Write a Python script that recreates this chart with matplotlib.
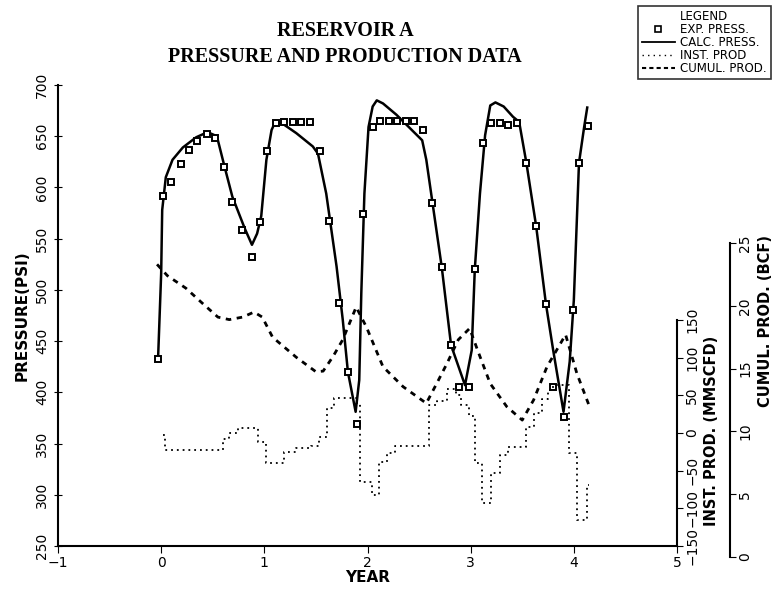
import numpy as np
import matplotlib
matplotlib.use('Agg')
from matplotlib import pyplot as plt
from matplotlib.lines import Line2D

# experimental pressure (squares)
exp_year = [-0.03, 0.02, 0.10, 0.19, 0.27, 0.35, 0.44, 0.52, 0.61, 0.69, 0.78, 0.88, 0.96,
            1.03, 1.11, 1.195, 1.28, 1.36, 1.445, 1.535, 1.63, 1.72, 1.81, 1.90, 1.96,
            2.05, 2.125, 2.21, 2.29, 2.37, 2.45, 2.54, 2.63, 2.72, 2.81, 2.89, 2.98,
            3.04, 3.12, 3.20, 3.285, 3.365, 3.45, 3.54, 3.635, 3.73, 3.80, 3.90, 3.99,
            4.05, 4.14]
exp_psi = [433, 592, 605, 623, 637, 645, 652, 648, 620, 586, 558, 532, 566,
           636, 663, 664, 664, 664, 664, 636, 567, 487, 420, 369, 574,
           659, 665, 665, 665, 665, 665, 656, 585, 522, 446, 405, 405,
           520, 643, 663, 663, 661, 663, 624, 562, 486, 405, 376, 480,
           624, 660]

# calculated pressure (solid line)
calc_year = [-0.03, 0.00, 0.01, 0.045, 0.11, 0.21, 0.34, 0.45, 0.54, 0.61, 0.69, 0.81, 0.88,
             0.93, 0.97, 1.02, 1.07, 1.11, 1.195, 1.31, 1.47, 1.52, 1.60, 1.70, 1.76,
             1.81, 1.885, 1.92, 1.94, 1.97, 2.01, 2.05, 2.09, 2.15, 2.28, 2.38, 2.46,
             2.53, 2.57, 2.63, 2.72, 2.81, 2.945, 3.01, 3.04, 3.09, 3.14, 3.19, 3.24,
             3.32, 3.41, 3.47, 3.54, 3.635, 3.73, 3.80, 3.90, 3.96, 4.00, 4.05, 4.10, 4.13]
calc_psi = [433, 516, 578, 610, 627, 639, 649, 654, 650, 622, 591, 560, 544,
            555, 572, 627, 656, 665, 661, 653, 640, 633, 594, 523, 471,
            420, 381, 412, 497, 594, 659, 679, 685, 682, 671, 661, 653,
            646, 627, 585, 522, 446, 407, 441, 520, 594, 651, 680, 683,
            679, 669, 664, 624, 562, 486, 441, 381, 430, 490, 624, 659, 678]

# instantaneous production, MMSCFD (step line)
inst_year = [0.02, 0.04, 0.60, 0.66, 0.74, 0.94, 1.02, 1.19, 1.31, 1.45, 1.53, 1.61, 1.68,
             1.90, 1.93, 2.04, 2.11, 2.19, 2.27, 2.60, 2.67, 2.77, 2.86, 2.91, 2.98,
             3.04, 3.11, 3.20, 3.28, 3.36, 3.54, 3.61, 3.69, 3.75, 3.80, 3.95, 4.03,
             4.13, 4.15]
inst_val = [-3, -22, -8, 0, 6, -12, -40, -25, -20, -17, -5, 33, 46,
            40, -65, -82, -38, -27, -17, 37, 42, 59, 50, 37, 22,
            -40, -93, -53, -29, -18, 8, 26, 45, 57, 64, -27, -115,
            -69, -69]

# cumulative production, BCF (dashed line)
cum_year = [-0.04, 0.06, 0.24, 0.40, 0.55, 0.66, 0.79, 0.90, 0.98, 1.08, 1.31, 1.50, 1.57,
            1.665, 1.76, 1.89, 1.99, 2.15, 2.345, 2.57, 2.67, 2.77, 2.88, 2.99, 3.07,
            3.19, 3.35, 3.50, 3.61, 3.74, 3.92, 4.03, 4.16]
cum_bcf = [23.3, 22.4, 21.4, 20.2, 19.1, 18.9, 19.1, 19.5, 19.1, 17.5, 15.9, 14.75, 14.8,
           15.95, 17.3, 19.9, 18.3, 15.15, 13.56, 12.24, 13.8, 15.4, 17.3, 18.2, 16.4,
           13.8, 11.97, 10.9, 12.5, 15.15, 17.7, 14.6, 11.8]

W, H = 773, 591
x0, x1 = 58, 677          # pixel edges of plot
ytop, ybot = 85, 546
cum_bot = 557

fig = plt.figure(figsize=(W / 100, H / 100), dpi=100)
ax = fig.add_axes([x0 / W, (H - ybot) / H, (x1 - x0) / W, (ybot - ytop) / H])
ax.set_xlim(-1, 5)
ax.set_ylim(250, 700)
ax.spines['top'].set_visible(False)
ax.spines['right'].set_visible(False)
ax.spines['left'].set_linewidth(1.5)
ax.spines['bottom'].set_linewidth(1.5)
ax.set_xticks(range(-1, 6))
ax.set_yticks(range(250, 701, 50))
ax.tick_params(axis='y', labelrotation=90, direction='inout', length=6, labelsize=10)
ax.tick_params(axis='x', direction='out', length=5, labelsize=10, pad=2)
for t in ax.get_yticklabels():
    t.set_va('center')
ax.set_xlabel('YEAR', fontsize=11, fontweight='bold', labelpad=0)
ax.set_ylabel('PRESSURE(PSI)', fontsize=11, fontweight='bold', labelpad=4)

ax.plot(calc_year, calc_psi, color='black', lw=1.8, zorder=3)
ax.plot(exp_year, exp_psi, ls='none', marker='s', ms=5, mfc='white', mec='black', mew=1.4, zorder=4)

# instantaneous production axis
ax2 = ax.twinx()
ppu = (546 - 320) / 300.0
ax2.set_ylim(-150, 150 + (320 - ytop) / ppu)
for s in ['top', 'left', 'bottom']:
    ax2.spines[s].set_visible(False)
ax2.spines['right'].set_bounds(-150, 150)
ax2.spines['right'].set_linewidth(1.5)
ax2.set_yticks(range(-150, 151, 50))
ax2.tick_params(axis='y', labelrotation=90, direction='out', length=4, labelsize=10, pad=2)
for t in ax2.get_yticklabels():
    t.set_va('center')
ax2.set_ylabel('INST. PROD. (MMSCFD)', fontsize=10.5, fontweight='bold', labelpad=2)
ax2.yaxis.set_label_coords(1.043, 0.25)
ax2.plot(inst_year, inst_val, drawstyle='steps-post', color='black', lw=1.3,
         ls=(0, (1, 2.2)))

# cumulative production axis
ax3 = fig.add_axes([x0 / W, (H - cum_bot) / H, (x1 - x0) / W, (cum_bot - ytop) / H])
ax3.patch.set_visible(False)
ax3.set_xlim(-1, 5)
ax3.set_ylim(0, (cum_bot - ytop) / ((cum_bot - 243) / 25.0))
for s in ['top', 'left', 'bottom']:
    ax3.spines[s].set_visible(False)
ax3.spines['right'].set_position(('axes', (730 - x0) / (x1 - x0)))
ax3.spines['right'].set_bounds(0, 25)
ax3.spines['right'].set_linewidth(1.5)
ax3.set_xticks([])
ax3.yaxis.tick_right()
ax3.yaxis.set_label_position('right')
ax3.set_yticks(range(0, 26, 5))
ax3.tick_params(axis='y', labelrotation=90, direction='out', length=4, labelsize=10, pad=2)
for t in ax3.get_yticklabels():
    t.set_va('center')
ax3.set_ylabel('CUMUL. PROD. (BCF)', fontsize=10.5, fontweight='bold', labelpad=4)
ax3.plot(cum_year, cum_bcf, color='black', lw=2, ls=(0, (2, 2)))

fig.text(345 / W, 1 - 31 / H, 'RESERVOIR A', ha='center', va='center',
         family='Liberation Serif', fontsize=14.5, fontweight='bold')
fig.text(345 / W, 1 - 57 / H, 'PRESSURE AND PRODUCTION DATA', ha='center', va='center',
         family='Liberation Serif', fontsize=14.5, fontweight='bold')

handles = [Line2D([], [], ls='none', marker='s', ms=4, mfc='white', mec='black', mew=1.2),
           Line2D([], [], color='black', lw=1.3),
           Line2D([], [], color='black', lw=1, ls=(0, (1, 3))),
           Line2D([], [], color='black', lw=1.5, ls=(0, (2, 1.5)))]
leg = fig.legend(handles, ['EXP. PRESS.', 'CALC. PRESS.', 'INST. PROD', 'CUMUL. PROD.'],
                 loc='upper right', bbox_to_anchor=(1.0, 0.993), title='LEGEND',
                 fontsize=8.5, title_fontsize=8.5, frameon=True, fancybox=False,
                 edgecolor='black', handlelength=2.8, handletextpad=0.5,
                 labelspacing=0.0, borderpad=0.3, borderaxespad=0.2)
leg.get_frame().set_linewidth(1.2)

fig.savefig('out.png', dpi=100)
